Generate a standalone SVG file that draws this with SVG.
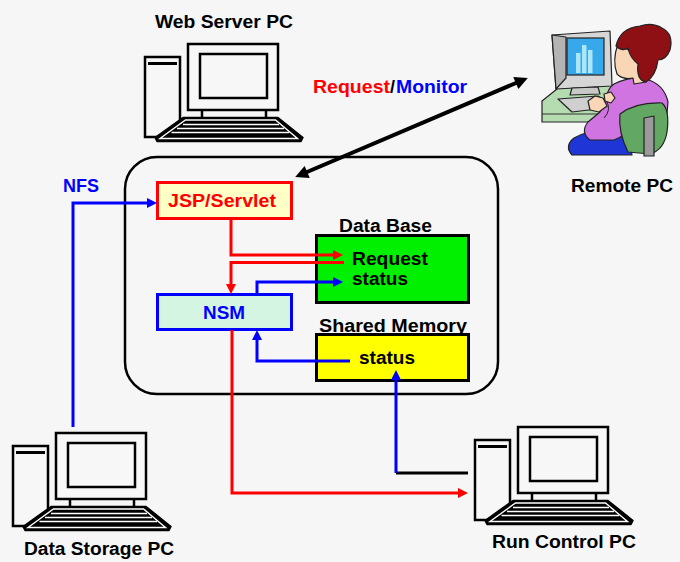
<svg xmlns="http://www.w3.org/2000/svg" xmlns:xlink="http://www.w3.org/1999/xlink" width="680" height="562" viewBox="0 0 680 562">
  <style>
    .lbl { font-family: "Liberation Sans", Arial, sans-serif; font-weight: bold; font-size: 18px; }
    .blk { fill: #000; }
    .red { fill: #ff0000; }
    .blue { fill: #0000ff; }
    .ln-red { fill: none; stroke: #ff0000; stroke-width: 3; }
    .ln-blue { fill: none; stroke: #0000ff; stroke-width: 3; }
    .ln-blk { fill: none; stroke: #000; stroke-width: 3; }
    .pc-line { fill: #f7f7f7; stroke: #000; stroke-width: 2.5; }
    .ink { stroke: #222; stroke-width: 1.2; stroke-linejoin: round; }
  </style>
  <defs>
    <marker id="ah-red" viewBox="0 0 10 10" refX="6" refY="5" markerWidth="11" markerHeight="10" markerUnits="userSpaceOnUse" orient="auto">
      <path d="M0,0 L10,5 L0,10 z" fill="#ff0000"/>
    </marker>
    <marker id="ah-blue" viewBox="0 0 10 10" refX="6" refY="5" markerWidth="11" markerHeight="10" markerUnits="userSpaceOnUse" orient="auto">
      <path d="M0,0 L10,5 L0,10 z" fill="#0000ff"/>
    </marker>
    <marker id="ah-blk" viewBox="0 0 10 10" refX="6" refY="5" markerWidth="16" markerHeight="13" markerUnits="userSpaceOnUse" orient="auto-start-reverse">
      <path d="M0,0 L10,5 L0,10 z" fill="#000"/>
    </marker>
    <!-- desktop computer icon: tower, monitor and keyboard -->
    <g id="computer">
      <rect class="pc-line" x="145" y="57" width="35" height="80"/>
      <line x1="148" y1="63.5" x2="177" y2="63.5" stroke="#000" stroke-width="3"/>
      <rect class="pc-line" x="188" y="44" width="90" height="66"/>
      <rect class="pc-line" x="200" y="54" width="67" height="44"/>
      <line x1="202" y1="110" x2="202" y2="119" stroke="#000" stroke-width="2.5"/>
      <line x1="266" y1="110" x2="266" y2="119" stroke="#000" stroke-width="2.5"/>
      <path d="M183,117.5 L278,117.5 L303,137.5 L301,141.5 L157,141.5 L155,137.5 Z" fill="#000" stroke="#000" stroke-width="1.5" stroke-linejoin="round"/>
      <path d="M185.5,120 L275.5,120 L297.5,138.5 L160,138.5 Z" fill="none" stroke="#fff" stroke-width="1.4"/>
      <g stroke="#fff" stroke-width="1.3">
        <line x1="183" y1="124.5" x2="279" y2="124.5"/>
        <line x1="177" y1="128.5" x2="284" y2="128.5"/>
        <line x1="171.5" y1="132.5" x2="289" y2="132.5"/>
      </g>
    </g>
  </defs>

  <rect x="0" y="0" width="680" height="562" fill="#f6f6f6"/>

  <!-- host machine boundary -->
  <rect x="125" y="157" width="373" height="237" rx="32" ry="32" fill="none" stroke="#000" stroke-width="2.5"/>

  <!-- Web Server PC -->
  <g id="web-server-pc">
    <use xlink:href="#computer"/>
    <text class="lbl blk" x="155" y="28" textLength="138" lengthAdjust="spacingAndGlyphs">Web Server PC</text>
  </g>

  <!-- Data Storage PC -->
  <g id="data-storage-pc">
    <use xlink:href="#computer" transform="translate(-132,389)"/>
    <text class="lbl blk" x="24" y="555" textLength="150" lengthAdjust="spacingAndGlyphs">Data Storage PC</text>
  </g>

  <!-- Run Control PC -->
  <g id="run-control-pc">
    <use xlink:href="#computer" transform="translate(330,383)"/>
    <text class="lbl blk" x="492" y="548" textLength="144" lengthAdjust="spacingAndGlyphs">Run Control PC</text>
  </g>

  <!-- Remote PC: user at a workstation -->
  <g id="remote-pc">
    <!-- desk -->
    <path class="ink" d="M542,101 L562,85 L622,85 L622,110 L600,122 L542,122 Z" fill="#b5dbb0"/>
    <path d="M542,114 L600,114 L622,103" fill="none" stroke="#333" stroke-width="1"/>
    <!-- monitor -->
    <path class="ink" d="M552,35 L610,31 L612,86 L556,89 Z" fill="#d6d6d6"/>
    <path class="ink" d="M552,35 L566,37 L566,78 L556,89 Z" fill="#b4b4b4"/>
    <rect x="567" y="38" width="37" height="37" fill="#37a9ea" stroke="#222" stroke-width="1.2"/>
    <rect x="576" y="53" width="4.5" height="20" fill="#a8e6f8"/>
    <rect x="582" y="45" width="4.5" height="28" fill="#a8e6f8"/>
    <rect x="588" y="50" width="4.5" height="23" fill="#a8e6f8"/>
    <path class="ink" d="M572,88 L598,87 L600,94 L570,95 Z" fill="#c8c8c8"/>
    <!-- keyboard -->
    <path class="ink" d="M558,99 L598,96 L614,107 L572,112 Z" fill="#cfcfcf"/>
    <!-- trousers -->
    <path class="ink" d="M574,138 Q596,126 628,130 L632,155 L572,155 Q564,146 574,138 Z" fill="#1f35d6"/>
    <!-- torso with arm reaching to the keyboard -->
    <path class="ink" d="M614,84 Q630,76 646,79 Q664,84 668,102 L666,124 L630,126 Q626,136 614,140 L590,140 Q580,132 588,122 L600,112 L606,98 Q608,88 614,84 Z" fill="#cf74e0"/>
    <path d="M606,100 Q612,110 604,118" fill="none" stroke="#222" stroke-width="1"/>
    <!-- hands -->
    <path class="ink" d="M588,101 L595,96 L603,98 L607,106 L599,112 L590,110 Z" fill="#f9d6b6"/>
    <path class="ink" d="M604,94 L611,92 L615,98 L611,103 L605,101 Z" fill="#f9d6b6"/>
    <!-- face and neck -->
    <path class="ink" d="M618,44 Q612,60 617,74 Q623,80 633,78 L634,84 L646,82 L646,60 Z" fill="#f9d6b6"/>
    <!-- hair with bun -->
    <path class="ink" d="M616,46 Q620,28 640,26 Q652,22 662,28 Q674,34 670,50 Q666,60 658,60 Q656,76 646,82 Q636,80 638,64 Q630,58 628,48 Q622,52 616,46 Z" fill="#8e0f14"/>
    <!-- chair -->
    <path class="ink" d="M620,114 Q636,102 662,103 Q670,110 667,132 Q664,150 650,154 L628,152 Q618,132 620,114 Z" fill="#63a862"/>
    <path class="ink" d="M644,118 L654,116 L654,156 L644,156 Z" fill="#9a9a9a"/>
    <text class="lbl blk" x="571" y="192" textLength="102" lengthAdjust="spacingAndGlyphs">Remote PC</text>
  </g>

  <!-- JSP/Servlet -->
  <g id="jsp-servlet">
    <rect x="157.5" y="182.5" width="134" height="36" fill="#ffffc6" stroke="#ff0000" stroke-width="3"/>
    <text class="lbl red" x="168" y="207" textLength="108" lengthAdjust="spacingAndGlyphs">JSP/Servlet</text>
  </g>

  <!-- Data Base -->
  <g id="data-base">
    <text class="lbl blk" x="339" y="232" textLength="93" lengthAdjust="spacingAndGlyphs">Data Base</text>
    <rect x="316.5" y="235.5" width="152" height="67" fill="#00f000" stroke="#000" stroke-width="3"/>
    <text class="lbl blk" x="352" y="265" textLength="76" lengthAdjust="spacingAndGlyphs">Request</text>
    <text class="lbl blk" x="352" y="285" textLength="56" lengthAdjust="spacingAndGlyphs">status</text>
  </g>

  <!-- NSM -->
  <g id="nsm">
    <rect x="157.5" y="294.5" width="134" height="35" fill="#d4f5e2" stroke="#0000ff" stroke-width="3"/>
    <text class="lbl blue" x="203" y="319" textLength="42" lengthAdjust="spacingAndGlyphs">NSM</text>
  </g>

  <!-- Shared Memory -->
  <g id="shared-memory">
    <text class="lbl blk" x="319" y="332" textLength="148" lengthAdjust="spacingAndGlyphs">Shared Memory</text>
    <rect x="316.5" y="334.5" width="152" height="46" fill="#ffff00" stroke="#000" stroke-width="3"/>
    <text class="lbl blk" x="359" y="364" textLength="56" lengthAdjust="spacingAndGlyphs">status</text>
  </g>

  <!-- connectors -->
  <g id="connectors">
    <!-- Remote PC <-> JSP/Servlet -->
    <line x1="300" y1="175" x2="523" y2="80" stroke="#000" stroke-width="4" marker-start="url(#ah-blk)" marker-end="url(#ah-blk)"/>
    <!-- NFS: Data Storage PC -> JSP/Servlet -->
    <path class="ln-blue" d="M73,427 L73,203 L153,203" marker-end="url(#ah-blue)"/>
    <!-- JSP/Servlet -> Data Base request -->
    <path class="ln-red" d="M231,219 L231,255 L339,255" marker-end="url(#ah-red)"/>
    <!-- Data Base request -> NSM -->
    <path class="ln-red" d="M344,262.5 L231,262.5 L231,290" marker-end="url(#ah-red)"/>
    <!-- NSM -> Data Base status -->
    <path class="ln-blue" d="M257,294 L257,282 L339,282" marker-end="url(#ah-blue)"/>
    <!-- Shared Memory status -> NSM -->
    <path class="ln-blue" d="M350,361 L257,361 L257,334" marker-end="url(#ah-blue)"/>
    <!-- Run Control PC -> Shared Memory status -->
    <path class="ln-blk" d="M468,473 L396,473"/>
    <path class="ln-blue" d="M396,473 L396,374" marker-end="url(#ah-blue)"/>
    <!-- NSM -> Run Control PC -->
    <path class="ln-red" d="M232,330 L232,493 L464,493" marker-end="url(#ah-red)"/>
  </g>

  <!-- label on the remote link -->
  <g id="link-label">
    <text class="lbl red" x="313" y="93" textLength="77" lengthAdjust="spacingAndGlyphs">Request</text>
    <text class="lbl blk" x="390" y="93">/</text>
    <text class="lbl blue" x="396" y="93" textLength="71" lengthAdjust="spacingAndGlyphs">Monitor</text>
  </g>

  <!-- NFS label -->
  <text class="lbl blue" x="63" y="192" textLength="36" lengthAdjust="spacingAndGlyphs">NFS</text>
</svg>
